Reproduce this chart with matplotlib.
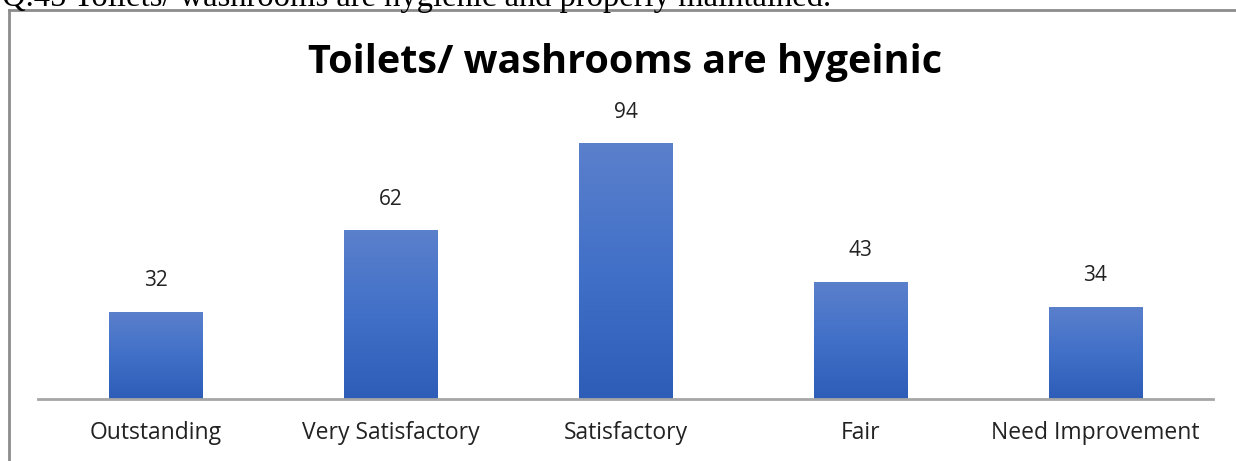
import matplotlib
matplotlib.use("Agg")
import matplotlib.pyplot as plt
import numpy as np
from matplotlib.lines import Line2D
from matplotlib.colors import LinearSegmentedColormap

categories = ["Outstanding", "Very Satisfactory", "Satisfactory", "Fair", "Need Improvement"]
values = [32, 62, 94, 43, 34]
title = "Toilets/ washrooms are hygeinic"
caption = "Q.45 Toilets/ washrooms are hygienic and properly maintained."

W, H = 1236, 461
fig = plt.figure(figsize=(W / 100, H / 100), dpi=100)
plt.rcParams['font.family'] = ['Open Sans', 'DejaVu Sans']

# caption above the chart frame (cropped at the top, as in the page scan)
fig.text(2 / W, 1 - 6 / H, caption, family='Liberation Serif', fontsize=23.5,
         ha='left', va='baseline', color='black')

# chart frame (left and top edges visible)
fig.add_artist(Line2D([9 / W, 9 / W], [0, 1 - 10 / H], color='#8c8c8c', lw=2))
fig.add_artist(Line2D([9 / W, 1], [1 - 10 / H, 1 - 10 / H], color='#8c8c8c', lw=2))

ax = fig.add_axes([38 / W, 1 - 399 / H, (1213 - 38) / W, 272 / H])
x = np.arange(len(categories))
bars = ax.bar(x, values, width=0.396, color='#4472C4', zorder=2)

cmap = LinearSegmentedColormap.from_list('g', ['#2E5DB8', '#4170C8', '#5B80CC'])
grad = np.linspace(0, 1, 256).reshape(-1, 1)
for b in bars:
    b.set_facecolor('none')
    x0, w, h = b.get_x(), b.get_width(), b.get_height()
    im = ax.imshow(grad, cmap=cmap, origin='lower', aspect='auto',
                   extent=[x0, x0 + w, 0, h], zorder=2)
    im.set_clip_path(b)
    # soft shadow
    ax.bar(b.get_x() + w / 2 + 0.006, h, width=w, color='#000000', alpha=0.08,
           zorder=1)

for xi, v in zip(x, values):
    ax.text(xi, v + 11.5, str(v), ha='center', va='center', fontsize=15, color='#222222')

ax.set_xlim(-0.5, 4.5)
ax.set_ylim(0, 100)
ax.set_xticks(x)
ax.set_xticklabels(categories, fontsize=16.5, color='#222222')
ax.tick_params(axis='x', length=0, pad=16)
ax.set_yticks([])
for s in ['top', 'right', 'left']:
    ax.spines[s].set_visible(False)
ax.spines['bottom'].set_color('#a6a6a6')
ax.spines['bottom'].set_linewidth(2)
ax.patch.set_alpha(0)

fig.text(625 / W, 1 - 62 / H, title, ha='center', va='center', fontsize=28.5,
         fontweight='bold', color='black')

fig.savefig('out.png', dpi=100)
